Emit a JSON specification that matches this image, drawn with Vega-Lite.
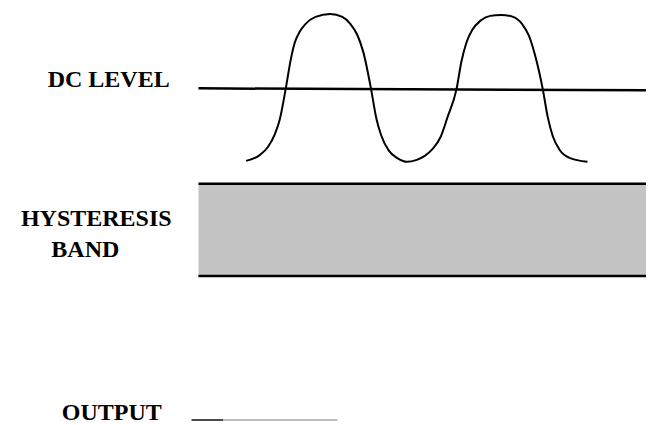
{
  "$schema": "https://vega.github.io/schema/vega-lite/v6.json",
  "width": 651,
  "height": 425,
  "autosize": {"type": "fit", "contains": "padding"},
  "padding": 0,
  "background": "white",
  "config": {"view": {"stroke": null}},
  "datasets": {
    "wave": [
      {"t": 248, "v": 162}, {"t": 262, "v": 156}, {"t": 270, "v": 148}, {"t": 277, "v": 135}, {"t": 282, "v": 120},
      {"t": 288, "v": 89}, {"t": 293, "v": 60}, {"t": 297, "v": 43}, {"t": 302, "v": 32}, {"t": 308, "v": 24},
      {"t": 318, "v": 17}, {"t": 333, "v": 14}, {"t": 345, "v": 17}, {"t": 353, "v": 24}, {"t": 360, "v": 35},
      {"t": 366, "v": 52}, {"t": 374, "v": 90}, {"t": 379, "v": 118}, {"t": 384, "v": 136}, {"t": 392, "v": 152},
      {"t": 400, "v": 159}, {"t": 410, "v": 163}, {"t": 420, "v": 161}, {"t": 428, "v": 157}, {"t": 436, "v": 150},
      {"t": 444, "v": 138}, {"t": 451, "v": 118}, {"t": 460, "v": 90}, {"t": 465, "v": 62}, {"t": 470, "v": 43},
      {"t": 476, "v": 30}, {"t": 484, "v": 21}, {"t": 494, "v": 16}, {"t": 505, "v": 15}, {"t": 517, "v": 17},
      {"t": 526, "v": 24}, {"t": 533, "v": 36}, {"t": 539, "v": 55}, {"t": 547, "v": 90}, {"t": 552, "v": 118},
      {"t": 557, "v": 137}, {"t": 564, "v": 151}, {"t": 574, "v": 159}, {"t": 592, "v": 163}
    ],
    "dc": [{"t": 200, "v": 89}, {"t": 651, "v": 91}],
    "band": [{"t0": 200, "t1": 651, "lo": 185, "hi": 278}],
    "edges": [{"t0": 200, "t1": 651, "v": 185}, {"t0": 200, "t1": 651, "v": 278}],
    "output": [
      {"t0": 193, "t1": 225, "v": 423, "part": "dark"},
      {"t0": 225, "t1": 340, "v": 423, "part": "light"}
    ],
    "rlabels": [
      {"t": 171, "v": 88, "text": "DC LEVEL"},
      {"t": 173, "v": 228, "text": "HYSTERESIS"},
      {"t": 163, "v": 423, "text": "OUTPUT"}
    ],
    "clabels": [
      {"t": 86, "v": 259, "text": "BAND"}
    ]
  },
  "layer": [
    {
      "data": {"name": "band"},
      "mark": {"type": "rect", "fill": "#c4c4c4"},
      "encoding": {
        "x": {"field": "t0", "type": "quantitative", "scale": {"domain": [0, 651]}, "axis": null},
        "x2": {"field": "t1"},
        "y": {"field": "lo", "type": "quantitative", "scale": {"domain": [425, 0]}, "axis": null},
        "y2": {"field": "hi"}
      }
    },
    {
      "data": {"name": "edges"},
      "mark": {"type": "rule", "color": "black", "strokeWidth": 2.5},
      "encoding": {
        "x": {"field": "t0", "type": "quantitative", "scale": {"domain": [0, 651]}, "axis": null},
        "x2": {"field": "t1"},
        "y": {"field": "v", "type": "quantitative", "scale": {"domain": [425, 0]}, "axis": null}
      }
    },
    {
      "data": {"name": "dc"},
      "mark": {"type": "line", "color": "black", "strokeWidth": 2.5},
      "encoding": {
        "x": {"field": "t", "type": "quantitative", "scale": {"domain": [0, 651]}, "axis": null},
        "y": {"field": "v", "type": "quantitative", "scale": {"domain": [425, 0]}, "axis": null}
      }
    },
    {
      "data": {"name": "wave"},
      "mark": {"type": "line", "color": "black", "strokeWidth": 2, "interpolate": "monotone"},
      "encoding": {
        "x": {"field": "t", "type": "quantitative", "scale": {"domain": [0, 651]}, "axis": null},
        "y": {"field": "v", "type": "quantitative", "scale": {"domain": [425, 0]}, "axis": null}
      }
    },
    {
      "data": {"name": "output"},
      "mark": {"type": "rule", "strokeWidth": 1.5},
      "encoding": {
        "x": {"field": "t0", "type": "quantitative", "scale": {"domain": [0, 651]}, "axis": null},
        "x2": {"field": "t1"},
        "y": {"field": "v", "type": "quantitative", "scale": {"domain": [425, 0]}, "axis": null},
        "color": {"field": "part", "type": "nominal", "scale": {"domain": ["dark", "light"], "range": ["#111111", "#a8a8a8"]}, "legend": null}
      }
    },
    {
      "data": {"name": "rlabels"},
      "mark": {"type": "text", "font": "Liberation Serif", "fontWeight": "bold", "fontSize": 24, "align": "right", "baseline": "alphabetic", "color": "black"},
      "encoding": {
        "x": {"field": "t", "type": "quantitative", "scale": {"domain": [0, 651]}, "axis": null},
        "y": {"field": "v", "type": "quantitative", "scale": {"domain": [425, 0]}, "axis": null},
        "text": {"field": "text"}
      }
    },
    {
      "data": {"name": "clabels"},
      "mark": {"type": "text", "font": "Liberation Serif", "fontWeight": "bold", "fontSize": 24, "align": "center", "baseline": "alphabetic", "color": "black"},
      "encoding": {
        "x": {"field": "t", "type": "quantitative", "scale": {"domain": [0, 651]}, "axis": null},
        "y": {"field": "v", "type": "quantitative", "scale": {"domain": [425, 0]}, "axis": null},
        "text": {"field": "text"}
      }
    }
  ]
}
